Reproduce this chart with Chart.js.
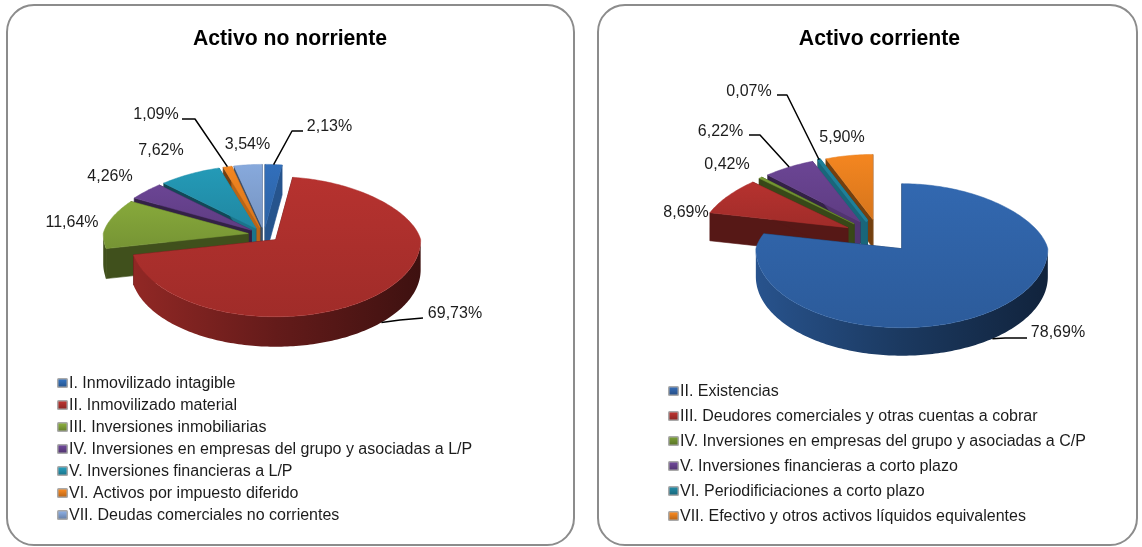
<!DOCTYPE html>
<html><head><meta charset="utf-8">
<script src="https://cdn.jsdelivr.net/npm/chart.js@4"></script>
<style>
html,body{margin:0;padding:0;background:#fff;overflow:hidden;width:1142px;height:547px}
.panel{position:absolute;box-sizing:border-box;border:2px solid #8c8c8c;border-radius:28px;background:#fff}
canvas{position:absolute;top:0;filter:blur(0.4px)}
</style></head><body>
<div class="panel" style="left:6px;top:4px;width:569px;height:542px"></div>
<div class="panel" style="left:597px;top:4px;width:541px;height:542px"></div>
<canvas id="c1" width="580" height="547" style="left:0"></canvas>
<canvas id="c2" width="552" height="547" style="left:591px"></canvas>
<script>
const FONT = '"Liberation Sans", Arial, sans-serif';

// ---- data ----
const noCorrienteTitle = 'Activo no norriente';
const noCorrienteCategories = ['I. Inmovilizado intagible','II. Inmovilizado material','III. Inversiones inmobiliarias','IV. Inversiones en empresas del grupo y asociadas a L/P','V. Inversiones financieras a L/P','VI. Activos por impuesto diferido','VII. Deudas comerciales no corrientes'];
const noCorrienteValues = [2.13,69.73,11.64,4.26,7.62,1.09,3.54];
const noCorrienteColors = ['#2f69b0','#ac2f2c','#7f9f38','#65418c','#2291ad','#e67e1e','#7f9fd0'];

const corrienteTitle = 'Activo corriente';
const corrienteCategories = ['II. Existencias','III. Deudores comerciales y otras cuentas a cobrar','IV. Inversiones en empresas del grupo y asociadas a C/P','V. Inversiones financieras a corto plazo','VI. Periodificiaciones a corto plazo','VII. Efectivo y otros activos líquidos equivalentes'];
const corrienteValues = [78.69,8.69,0.42,6.22,0.07,5.90];
const corrienteColors = ['#2f62a6','#ac2f2c','#6f9030','#65418c','#1f7f98','#e67e1e'];

// ---- layout of annotations (canvas-local), one entry per slice ----
const noCorrienteLabelSpots = [[329.5,127],[455,314],[72,223],[110,177],[161,151],[156,115],[247.5,145]];
const noCorrienteLeaders = [[[303,131],[292,131]],[[423,318],[400,320]],null,null,null,[[182,119],[195,119]],null];
const corrienteLabelSpots = [[467,333],[95,213],[136,165],[129.5,132],[158,92],[251,138]];
const corrienteLeaders = [[[436,338],[414,338]],null,null,[[158,135],[169,135]],[[186,95],[196,95]],null];

const shade = (hex,f) => {
  const n=parseInt(hex.slice(1),16);
  const ch=v=>Math.max(0,Math.min(255,Math.round(v*f)));
  return `rgb(${ch(n>>16&255)},${ch(n>>8&255)},${ch(n&255)})`;
};

const pie3d = {
  id:'pie3d',
  beforeDatasetDraw(chart){
    const o=chart.options.plugins.pie3d, ctx=chart.ctx, meta=chart.getDatasetMeta(0);
    const colors=chart.data.datasets[0].backgroundColor;
    const items=meta.data.map((el,i)=>{
      const p=el.getProps(['x','y','startAngle','endAngle','outerRadius']);
      const a0=p.startAngle+Math.PI/2, a1=p.endAngle+Math.PI/2, mid=(a0+a1)/2;
      const off=el.options.offset;
      return {i,a0,a1,mid,rx:p.outerRadius,ax:p.x+o.shiftX+off*Math.sin(mid),ay:p.y-off*o.ky*Math.cos(mid)};
    }).sort((a,b)=>Math.cos(b.mid)-Math.cos(a.mid));
    chart.$slices=[];
    items.forEach(s=>{
      chart.$slices[s.i]=s;
      const col=colors[s.i];
      const pt=(a)=>{const c=Math.cos(a);return [s.ax+s.rx*Math.sin(a)*(c>0?1-o.persp*c:1), s.ay-(c>0?o.up:o.down)*c];};
      s.pt=pt;
      const steps=Math.max(2,Math.ceil((s.a1-s.a0)/0.02));
      const arc=[];for(let k=0;k<=steps;k++)arc.push(pt(s.a0+(s.a1-s.a0)*k/steps));
      const span=s.a1-s.a0, thin=span<0.02;
      // cut faces
      [[arc[0],s.a0,false],[arc[arc.length-1],s.a1,true]].forEach(([e,ang,isEnd])=>{
        const f=(isEnd&&Math.cos(ang)>0.9&&Math.cos(ang)<0.9999)?0.8:0.5;
        ctx.beginPath();ctx.moveTo(s.ax,s.ay);ctx.lineTo(e[0],e[1]);ctx.lineTo(e[0],e[1]+o.depth);ctx.lineTo(s.ax,s.ay+o.depth);ctx.closePath();
        ctx.fillStyle=shade(col,f);ctx.strokeStyle=shade(col,f);ctx.lineWidth=thin?3:0.6;ctx.fill();ctx.stroke();
      });
      // outer wall (front-facing part only)
      const front=arc.filter((q,k)=>Math.cos(s.a0+span*k/steps)<=0);
      if(front.length>1){
        let fill=shade(col,0.5);
        if(span>1){
          const g=ctx.createLinearGradient(s.ax-s.rx,0,s.ax+s.rx,0);
          g.addColorStop(0,shade(col,0.85));g.addColorStop(0.5,shade(col,0.58));g.addColorStop(1,shade(col,0.36));
          fill=g;
        }
        ctx.beginPath();front.forEach((q,k)=>k?ctx.lineTo(q[0],q[1]):ctx.moveTo(q[0],q[1]));
        front.slice().reverse().forEach(q=>ctx.lineTo(q[0],q[1]+o.depth));ctx.closePath();
        ctx.fillStyle=fill;ctx.fill();
      }
      // top face
      const ys=arc.map(q=>q[1]).concat(s.ay);
      const tg=ctx.createLinearGradient(0,Math.min(...ys),0,Math.max(...ys));
      tg.addColorStop(0,shade(col,1.06));tg.addColorStop(1,shade(col,0.93));
      ctx.beginPath();ctx.moveTo(s.ax,s.ay);arc.forEach(q=>ctx.lineTo(q[0],q[1]));ctx.closePath();
      ctx.fillStyle=tg;ctx.strokeStyle=col;ctx.lineWidth=span<0.01?3:0.5;ctx.lineJoin='round';ctx.fill();ctx.stroke();
    });
    return false;
  },
  afterDraw(chart){
    const o=chart.options.plugins.pie3d, ctx=chart.ctx, data=chart.data;
    const values=data.datasets[0].data, colors=data.datasets[0].backgroundColor;
    ctx.save();
    ctx.textBaseline='middle';
    // value labels + leaders
    values.forEach((v,i)=>{
      const s=chart.$slices[i], spot=o.labelSpots[i], lead=o.leaders[i];
      ctx.fillStyle='#1c1c1c';ctx.font=`${o.labelSize}px ${FONT}`;ctx.textAlign='center';
      ctx.fillText(v.toFixed(2).replace('.',',')+'%',spot[0],spot[1]);
      if(lead){
        const c=Math.cos(s.mid), e=s.pt(s.mid);
        const ex=e[0], ey=e[1]+(c<0?o.depth:0);
        ctx.strokeStyle='#000';ctx.lineWidth=1.5;ctx.beginPath();
        ctx.moveTo(lead[0][0],lead[0][1]);ctx.lineTo(lead[1][0],lead[1][1]);ctx.lineTo(ex,ey);ctx.stroke();
      }
    });
    // legend
    data.labels.forEach((t,i)=>{
      const y=o.legendTop+i*o.legendStep;
      const bx=o.legendX;
      const g=ctx.createLinearGradient(0,y-4,0,y+4);
      g.addColorStop(0,shade(colors[i],1.12));g.addColorStop(1,shade(colors[i],0.8));
      ctx.fillStyle='#a9a9a9';ctx.beginPath();ctx.roundRect(bx-1,y-5,11,10,1.5);ctx.fill();
      ctx.fillStyle=g;ctx.fillRect(bx+.5,y-3.5,8,7);
      ctx.fillStyle='#1c1c1c';ctx.font=`${o.legendSize}px ${FONT}`;ctx.textAlign='left';
      ctx.fillText(t,bx+11,y+.5);
    });
    ctx.restore();
  }
};

function build(id,title,labels,values,colors,offset,radius,padding,extra){
  return new Chart(document.getElementById(id),{
    type:'pie',
    data:{labels,datasets:[{data:values,backgroundColor:colors,offset,borderWidth:0}]},
    options:{
      responsive:false,animation:false,radius,layout:{padding},
      plugins:{
        legend:{display:false},tooltip:{enabled:false},
        title:{display:true,text:title,color:'#000',font:{family:FONT,size:21.2,weight:'bold',lineHeight:1.2},padding:{top:26,bottom:3}},
        pie3d:extra
      }
    },
    plugins:[pie3d]
  });
}
build('c1',noCorrienteTitle,noCorrienteCategories,noCorrienteValues,noCorrienteColors,16,145,
  {left:0,right:0,top:0,bottom:132},
  {shiftX:-26,ky:.46,up:63,down:77,depth:30,persp:.12,labelSpots:noCorrienteLabelSpots,leaders:noCorrienteLeaders,labelSize:16,legendSize:16,legendX:58,legendTop:383,legendStep:22});
build('c2',corrienteTitle,corrienteCategories,corrienteValues,corrienteColors,36,146,
  {left:25,right:0,top:0,bottom:130},
  {shiftX:0,ky:.46,up:65,down:79,depth:28,persp:.12,labelSpots:corrienteLabelSpots,leaders:corrienteLeaders,labelSize:16,legendSize:16,legendX:78,legendTop:391,legendStep:25});
</script>
</body></html>
